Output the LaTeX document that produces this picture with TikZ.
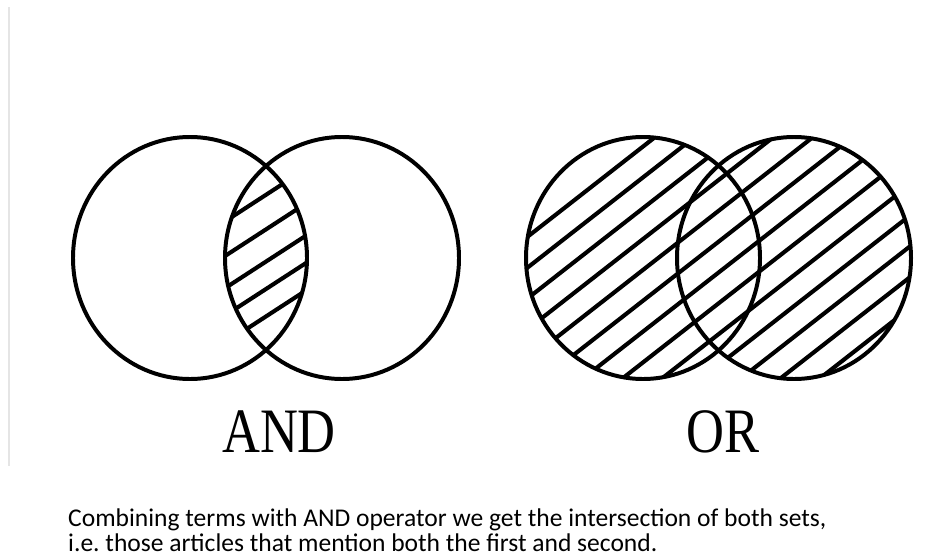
\documentclass[tikz,border=0pt]{standalone}
\usepackage{fontspec}
\setmainfont{Liberation Serif}
\newfontfamily\captionfont{Carlito}

\tikzset{
  setline/.style={line width=3.4pt},
  hatchline/.style={line width=3.5pt},
  biglabel/.style={font=\fontsize{54}{60}\selectfont, anchor=base, inner sep=0pt},
}

\begin{document}
\begin{tikzpicture}[x=0.03cm, y=-0.03cm]

  \useasboundingbox (0,0) rectangle (928,559);

  % Set centres
  \coordinate (AL) at (190,258);
  \coordinate (AR) at (342,258);
  \coordinate (OL) at (643,258);
  \coordinate (OR) at (794,258);
  \coordinate (AM) at (266,258);
  \coordinate (OM) at (718,258);

  % Faint page edge
  \draw[gray!20, line width=1.2pt] (9,7) -- (9,466);

  % Hatching of the intersection
  \begin{scope}
    \clip (AL) ellipse [x radius=117, y radius=121];
    \clip (AR) ellipse [x radius=117, y radius=121];
    \begin{scope}[shift={(AM)}, rotate=33]
      \foreach \t in {-53,-24,3,26,49}
        \draw[hatchline] (-150,\t) -- (150,\t);
    \end{scope}
  \end{scope}

  % Hatching of the union
  \begin{scope}
    \clip (OL) ellipse [x radius=117, y radius=121]
          (OR) ellipse [x radius=117, y radius=121];
    \begin{scope}[shift={(OM)}, rotate=38]
      \foreach \t in {-134,-109.7,...,158}
        \draw[hatchline] (-250,\t) -- (250,\t);
    \end{scope}
  \end{scope}

  % Circles
  \draw[setline] (AL) ellipse [x radius=117, y radius=121];
  \draw[setline] (AR) ellipse [x radius=117, y radius=121];
  \draw[setline] (OL) ellipse [x radius=117, y radius=121];
  \draw[setline] (OR) ellipse [x radius=117, y radius=121];

  % Labels
  \node[biglabel] (andlabel) at (279,452) {\scalebox{0.83}[1]{AND}};
  \node[biglabel] (orlabel)  at (723,452) {\scalebox{0.83}[1]{OR}};

  \node[anchor=north west, align=left, inner sep=0pt,
        font=\captionfont\fontsize{21.8}{21}\selectfont\frenchspacing] (caption) at (68,509)
    {Combining terms with AND operator we get the intersection of both sets,\\
     i.e. those articles that mention both the first and second.};

\end{tikzpicture}
\end{document}
